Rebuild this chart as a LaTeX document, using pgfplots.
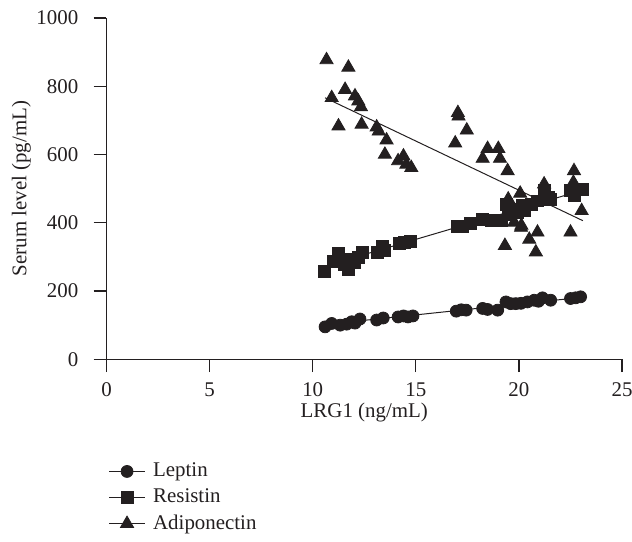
\documentclass[border=0pt]{standalone}
\usepackage{fontspec}
\setmainfont{Liberation Serif}
\usepackage{pgfplots}
\pgfplotsset{compat=1.18}

\definecolor{ink}{HTML}{231F20}

\begin{document}
\fontsize{10.5}{12}\selectfont
\begin{tikzpicture}
\begin{axis}[
    name=ax,
    scale only axis,
    width=259pt,
    height=171.5pt,
    xmin=0, xmax=25,
    ymin=0, ymax=1000,
    axis lines*=left,
    axis line style={ink, line width=0.6pt},
    xtick={0,5,...,25},
    ytick={0,200,...,1000},
    tick align=outside,
    major tick length=6.5pt,
    tick style={ink, line width=0.6pt},
    minor tick num=0,
    /pgf/number format/assume math mode=true,
    /pgf/number format/1000 sep={},
    ticklabel style={font=\fontsize{10.5}{12}\selectfont, text=ink},
    xticklabel style={yshift=-1.5pt},
    yticklabel style={xshift=-4pt},
    xlabel={LRG1 (ng/mL)},
    ylabel={Serum level (pg/mL)},
    label style={font=\fontsize{10.5}{12}\selectfont, text=ink},
    xlabel style={at={(axis description cs:0.5,-0.155)}, anchor=center},
    ylabel style={at={(axis description cs:-0.165,0.5)}, anchor=center},
    clip=false,
    legend style={draw=none, at={(0.0,-0.285)}, anchor=north west,
        font=\fontsize{10.5}{12}\selectfont, text=ink, row sep=0.5pt,
        inner sep=1pt},
    legend cell align=left,
    legend image code/.code={
        \draw[ink, line width=0.6pt] (0cm,0cm) -- (0.62cm,0cm);
        \draw[#1] plot coordinates {(0.31cm,0cm)};
    },
]

% Leptin
\addplot[only marks, mark=*, mark size=3pt, color=ink] coordinates {
    (10.6,95) (10.92,105) (11.33,100) (11.65,103) (11.89,110) (12.05,106)
    (12.29,118) (13.1,115) (13.42,121) (14.14,124) (14.4,127) (14.62,124)
    (14.86,127) (16.96,141) (17.2,145) (17.44,144) (18.24,149) (18.48,146)
    (18.97,144) (19.37,168) (19.6,163) (19.85,163) (20.1,164) (20.41,168)
    (20.74,173) (20.95,170) (21.14,180) (21.54,173) (22.5,178) (22.75,180)
    (22.99,183)
};
\addlegendentry{\hspace{2pt}Leptin}

% Resistin
\addplot[only marks, mark=square*, mark size=3pt, color=ink] coordinates {
    (10.55,258) (11.0,288) (11.25,310) (11.55,278) (11.75,262) (11.85,292)
    (12.0,285) (12.2,298) (12.4,312) (13.15,312) (13.4,330) (13.5,318)
    (14.2,340) (14.45,342) (14.75,345) (17.0,388) (17.25,390) (17.65,397)
    (18.24,411) (18.64,406) (19.13,406) (19.37,455) (19.5,425) (19.77,440)
    (19.95,430) (20.17,450) (20.25,435) (20.6,455) (20.9,464) (21.22,494)
    (21.45,474) (21.54,469) (22.5,494) (22.67,479) (23.07,499)
};
\addlegendentry{\hspace{2pt}Resistin}

% Adiponectin
\addplot[only marks, mark=triangle*, mark size=3.8pt, color=ink] coordinates {
    (10.67,877) (10.92,766) (11.25,683) (11.57,790) (11.73,855) (12.05,771)
    (12.21,756) (12.34,739) (12.37,688) (13.1,680) (13.2,668) (13.58,642)
    (13.5,600) (14.14,581) (14.4,595) (14.54,571) (14.78,561) (17.04,722)
    (17.07,712) (17.47,671) (16.91,633) (18.48,617) (19.0,617) (18.24,588)
    (19.08,588) (19.45,552) (20.06,486) (19.48,469) (21.22,513) (19.77,401)
    (20.1,386) (20.9,372) (20.5,351) (19.32,333) (20.82,314) (22.67,552)
    (22.64,518) (23.04,435) (22.5,372) (20.12,392)
};
\addlegendentry{\hspace{2pt}Adiponectin}

% regression lines
\addplot[forget plot, ink, line width=0.5pt] coordinates {(10.6,102) (23.3,183)};
\addplot[forget plot, ink, line width=0.5pt] coordinates {(10.6,273) (23.3,499)};
\addplot[forget plot, ink, line width=0.5pt] coordinates {(10.6,766) (23.1,406)};

\end{axis}
\pgfresetboundingbox
\path ([xshift=-53.5pt,yshift=-91.5pt]ax.south west) rectangle ([xshift=264pt,yshift=180.5pt]ax.south west);
\end{tikzpicture}
\end{document}
